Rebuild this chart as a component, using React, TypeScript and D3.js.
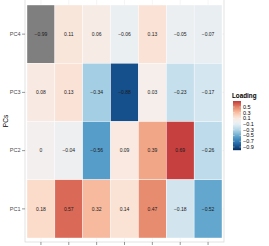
import React, { useEffect, useRef } from 'react';
import * as d3 from 'd3';

// variables on x, components on y (top to bottom)
const variables = ['V1', 'V2', 'V3', 'V4', 'V5', 'V6', 'V7'];
const components = ['PC4', 'PC3', 'PC2', 'PC1'];

const pc4 = [-0.99, 0.11, 0.06, -0.06, 0.13, -0.05, -0.07];
const pc3 = [0.08, 0.13, -0.34, -0.88, 0.03, -0.23, -0.17];
const pc2 = [0, -0.04, -0.56, 0.09, 0.39, 0.69, -0.26];
const pc1 = [0.18, 0.57, 0.32, 0.14, 0.47, -0.18, -0.52];

const legendBreaks = [0.5, 0.3, 0.1, -0.1, -0.3, -0.5, -0.7, -0.9];
const legendLimits = [-0.97, 0.71];

const fmt = (v: number) => {
  if (v === 0) return '0';
  const s = Math.abs(v).toFixed(2);
  return (v < 0 ? '\u2212' : '') + s;
};

const App = () => {
  const svgRef = useRef<SVGSVGElement>(null);

  useEffect(() => {
    const width = 269;
    const height = 246;
    const panel = { left: 25, right: 224, top: -1, bottom: 242 };

    const svg = d3.select(svgRef.current);
    svg.selectAll('*').remove();
    svg.attr('width', width).attr('height', height);

    const rows = [pc4, pc3, pc2, pc1];
    const cells = rows.flatMap((vals, i) =>
      vals.map((v, j) => ({ pc: components[i], variable: variables[j], value: v }))
    );

    const x = d3.scaleBand().domain(variables).range([27, 222]);
    const y = d3.scaleBand().domain(components).range([5, 238]);

    // symmetric diverging fill, out of limits -> grey
    const color = d3.scaleDiverging(d3.interpolateRdBu).domain([1, 0, -1]).clamp(true);
    const fill = (v: number) =>
      v < legendLimits[0] || v > legendLimits[1] ? '#7f7f7f' : color(v);

    // grid
    const g = svg.append('g');
    g.selectAll('line.vgrid')
      .data(variables)
      .join('line')
      .attr('x1', (d) => x(d)! + x.bandwidth() / 2)
      .attr('x2', (d) => x(d)! + x.bandwidth() / 2)
      .attr('y1', panel.top)
      .attr('y2', panel.bottom)
      .attr('stroke', '#ebebeb')
      .attr('stroke-width', 0.5);
    g.selectAll('line.hgrid')
      .data(components)
      .join('line')
      .attr('x1', panel.left)
      .attr('x2', panel.right)
      .attr('y1', (d) => y(d)! + y.bandwidth() / 2)
      .attr('y2', (d) => y(d)! + y.bandwidth() / 2)
      .attr('stroke', '#ebebeb')
      .attr('stroke-width', 0.5);

    // tiles
    g.selectAll('rect.tile')
      .data(cells)
      .join('rect')
      .attr('x', (d) => x(d.variable)!)
      .attr('y', (d) => y(d.pc)!)
      .attr('width', x.bandwidth())
      .attr('height', y.bandwidth())
      .attr('fill', (d) => fill(d.value))
      .attr('stroke', '#ffffff')
      .attr('stroke-width', 0.4);

    g.selectAll('text.val')
      .data(cells)
      .join('text')
      .attr('x', (d) => x(d.variable)! + x.bandwidth() / 2)
      .attr('y', (d) => y(d.pc)! + y.bandwidth() / 2)
      .attr('dy', '0.35em')
      .attr('text-anchor', 'middle')
      .attr('font-size', 5)
      .attr('fill', '#1a1a1a')
      .text((d) => fmt(d.value));

    // panel border
    svg
      .append('rect')
      .attr('x', panel.left)
      .attr('y', panel.top)
      .attr('width', panel.right - panel.left)
      .attr('height', panel.bottom - panel.top)
      .attr('fill', 'none')
      .attr('stroke', '#cfcfcf')
      .attr('stroke-width', 0.6);

    // axes
    const yAxis = svg
      .append('g')
      .attr('transform', `translate(${panel.left},0)`)
      .call(d3.axisLeft(y).tickSize(3).tickPadding(1.5));
    yAxis.select('.domain').remove();
    yAxis.selectAll('line').attr('stroke', '#333333').attr('stroke-width', 0.5);
    yAxis.selectAll('text').attr('font-size', 5.5).attr('fill', '#4d4d4d');

    // x tick labels fall outside the picture, only the marks show
    const xAxis = svg
      .append('g')
      .attr('transform', `translate(0,${panel.bottom})`)
      .call(d3.axisBottom(x).tickSize(3).tickFormat(() => ''));
    xAxis.select('.domain').remove();
    xAxis.selectAll('line').attr('stroke', '#333333').attr('stroke-width', 0.5);

    svg
      .append('text')
      .attr('transform', `translate(8,121) rotate(-90)`)
      .attr('text-anchor', 'middle')
      .attr('font-size', 6.5)
      .attr('fill', '#000')
      .text('PCs');

    // legend
    const leg = svg.append('g');
    const ly = d3.scaleLinear().domain(legendLimits).range([149, 101]);
    const steps = d3.range(0, 49);
    leg.selectAll('rect.bar')
      .data(steps)
      .join('rect')
      .attr('x', 233)
      .attr('y', (d) => 101 + d)
      .attr('width', 8)
      .attr('height', 1.2)
      .attr('fill', (d) => color(ly.invert(101 + d + 0.5)));

    leg.selectAll('line.tk')
      .data(legendBreaks)
      .join('line')
      .attr('x1', 233)
      .attr('x2', 234.6)
      .attr('y1', (d) => ly(d))
      .attr('y2', (d) => ly(d))
      .attr('stroke', '#fff')
      .attr('stroke-width', 0.4);
    leg.selectAll('line.tk2')
      .data(legendBreaks)
      .join('line')
      .attr('x1', 239.4)
      .attr('x2', 241)
      .attr('y1', (d) => ly(d))
      .attr('y2', (d) => ly(d))
      .attr('stroke', '#fff')
      .attr('stroke-width', 0.4);

    leg.selectAll('text.lab')
      .data(legendBreaks)
      .join('text')
      .attr('x', 243)
      .attr('y', (d) => ly(d))
      .attr('dy', '0.35em')
      .attr('font-size', 5.5)
      .attr('fill', '#000')
      .text((d) => fmt(d).replace(/^(\u2212?)0\.(\d)0$/, '$10.$2'));

    leg.append('text')
      .attr('x', 232)
      .attr('y', 98)
      .attr('font-size', 6.3)
      .attr('font-weight', 'bold')
      .attr('fill', '#000')
      .text('Loading');
  }, []);

  return (
    <svg
      ref={svgRef}
      style={{ position: 'absolute', left: 0, top: 0, fontFamily: 'Liberation Sans, Arial, sans-serif' }}
    />
  );
};

export default App;
